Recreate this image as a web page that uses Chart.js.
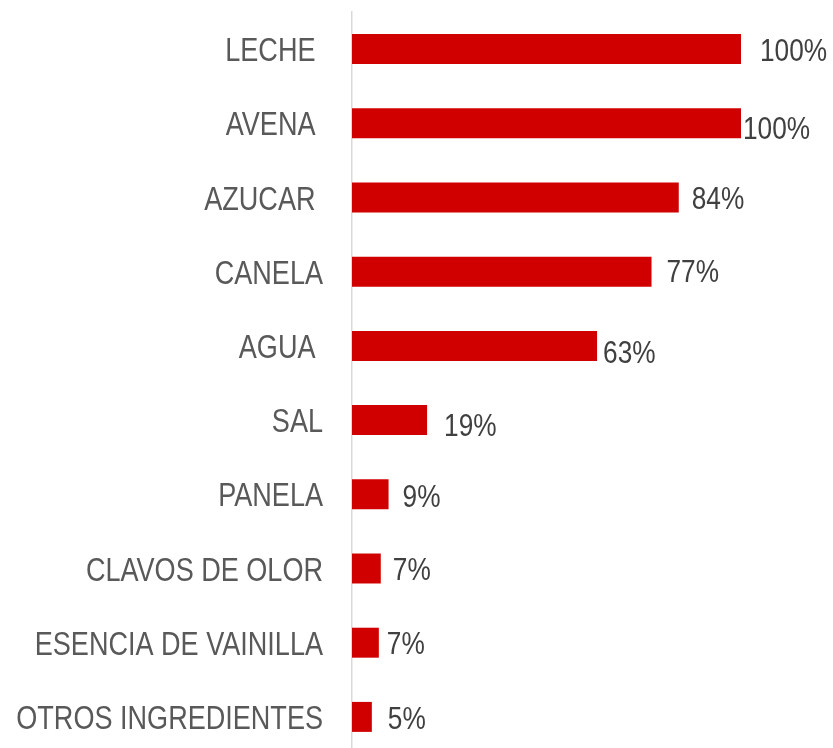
<!DOCTYPE html>
<html>
<head>
<meta charset="utf-8">
<script src="https://cdn.jsdelivr.net/npm/chart.js@4/dist/chart.umd.min.js"></script>
<style>
    html, body { margin: 0; padding: 0; background: #fff; overflow: hidden; }
    canvas { display: block; }
</style>
</head>
<body>
<canvas id="chart" width="833" height="754"></canvas>
<script>
// Ingredientes (los espacios finales vienen del original)
const categories = ['LECHE ', 'AVENA ', 'AZUCAR ', 'CANELA', 'AGUA ', 'SAL', 'PANELA', 'CLAVOS DE OLOR', 'ESENCIA DE VAINILLA', 'OTROS INGREDIENTES'];
const values = [100, 100, 84, 77, 63, 19.3, 9.4, 7.4, 6.9, 5.1];

// desplazamiento de cada etiqueta de valor (x, y) como en el original
const labelDx = [19, 2, 13, 15, 6, 17, 14, 12, 8, 16];
const labelDy = [0, 4, 0, -1, 6, 4, 1, 0, 0, 1];

const NARROW = 0.82; // la fuente original es estrecha, se comprime Liberation Sans

function narrowText(ctx, txt, x, y, align) {
    ctx.save();
    ctx.translate(x, y);
    ctx.scale(NARROW, 1);
    ctx.textAlign = align;
    ctx.textBaseline = 'alphabetic';
    ctx.fillText(txt, 0, 0);
    ctx.restore();
}

const textLabels = {
    id: 'textLabels',
    afterDatasetsDraw(chart) {
        const ctx = chart.ctx;
        const meta = chart.getDatasetMeta(0);
        const yScale = chart.scales.y;
        ctx.save();
        // categorias
        ctx.font = '33px "Liberation Sans", Arial, sans-serif';
        ctx.fillStyle = '#595959';
        categories.forEach((c, i) => {
            narrowText(ctx, c, yScale.right - 29, yScale.getPixelForTick(i) + 12, 'right');
        });
        // valores
        ctx.font = '32px "Liberation Sans", Arial, sans-serif';
        ctx.fillStyle = '#404040';
        meta.data.forEach((bar, i) => {
            const txt = Math.round(values[i]) + '%';
            narrowText(ctx, txt, bar.x + labelDx[i], bar.y + 11.5 + labelDy[i], 'left');
        });
        ctx.restore();
    }
};

new Chart(document.getElementById('chart'), {
    type: 'bar',
    data: {
        labels: categories,
        datasets: [{
            data: values,
            backgroundColor: '#d00000',
            borderWidth: 0,
            barPercentage: 1,
            categoryPercentage: 0.404
        }]
    },
    options: {
        indexAxis: 'y',
        responsive: false,
        animation: false,
        layout: { padding: { top: 12, right: 92, bottom: 0, left: 0 } },
        plugins: { legend: { display: false }, tooltip: { enabled: false } },
        scales: {
            x: { display: false, min: 0, max: 100 },
            y: {
                afterFit(scale) { scale.width = 352; },
                grid: { display: false, drawTicks: false },
                border: { display: true, color: '#d9d9d9', width: 1.5 },
                ticks: { display: false }
            }
        }
    },
    plugins: [textLabels]
});
</script>
</body>
</html>
